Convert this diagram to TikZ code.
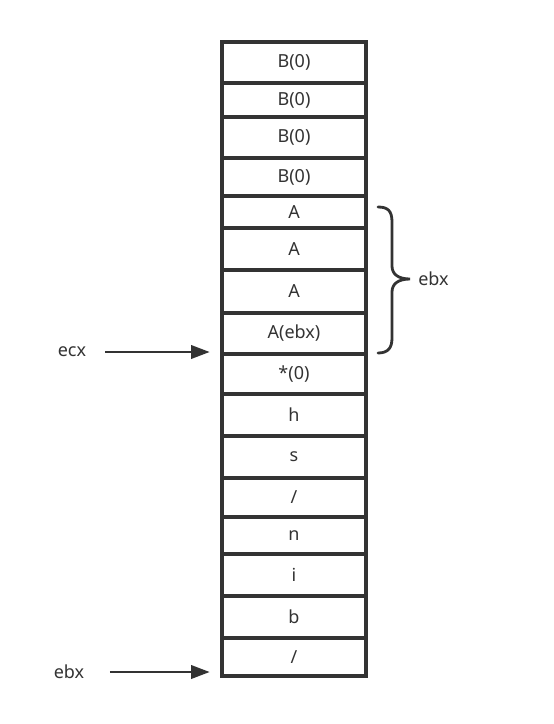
\documentclass[tikz,border=0pt]{standalone}
\usepackage{fontspec}
\setmainfont{Noto Sans}
\usetikzlibrary{arrows.meta}
\definecolor{ink}{HTML}{333333}
\begin{document}
\begin{tikzpicture}[x=0.75pt,y=-0.75pt,
  cell/.style={draw=ink, line width=2.4pt, minimum width=144*0.75pt, inner sep=0pt, text=ink, font=\fontsize{13.5}{15}\selectfont},
  lbl/.style={text=ink, font=\fontsize{13.5}{15}\selectfont, inner sep=1pt},
  arr/.style={draw=ink, line width=2pt, -{Triangle[length=14pt,width=10pt]}}]
\useasboundingbox (0,0) rectangle (553,724);
\foreach \n/\m/\h/\t in {1/62.5/41/B(0),2/100/34/B(0),3/137.5/41/B(0),4/177/38/B(0),5/212/32/A,6/249/42/A,7/291.5/43/A,8/333.5/41/A(ebx),9/374/40/*(0),10/415/42/h,11/457/42/s,12/497.5/39/{/},13/535.5/37/n,14/575/42/i,15/617/42/b,16/657/38/{/}}
  \node[cell, minimum height=\h*0.75pt] (c\n) at (294,\m) {\t};
\node[lbl] (ecx) at (72,352) {ecx};
\node[lbl] (ebxa) at (69,672) {ebx};
\draw[arr] ([xshift=13pt]ecx.east) -- ([xshift=-8pt]c8.south west |- ecx.east);
\draw[arr] ([xshift=18pt]ebxa.east) -- ([xshift=-8pt]c16.south west |- ebxa.east);
\draw[ink, line width=2.1pt, line cap=round]
  (378,207) .. controls (388,207) and (392,211) .. (392,222) -- (392,266)
  .. controls (392,274) and (398,279) .. (410,279)
  .. controls (398,279) and (392,284) .. (392,292) -- (392,338)
  .. controls (392,348) and (388,353) .. (378,353);
\coordinate (tip) at (410,279);
\node[lbl, anchor=west] (ebxb) at ([xshift=5pt]tip) {ebx};
\end{tikzpicture}
\end{document}
